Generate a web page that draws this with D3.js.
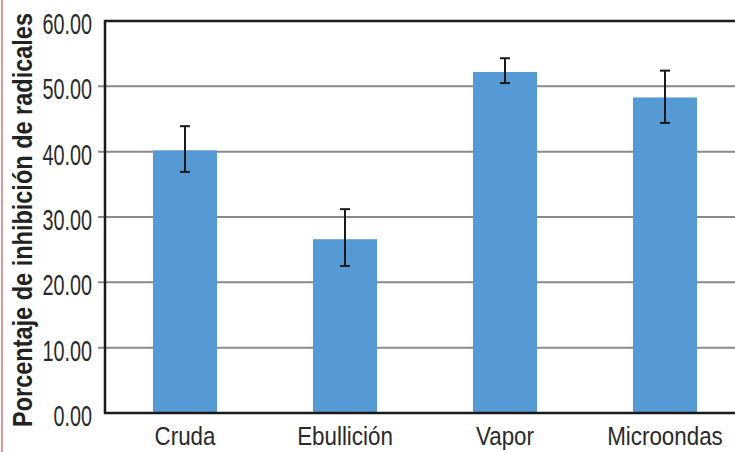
<!DOCTYPE html>
<html><head><meta charset="utf-8">
<script src="https://cdn.jsdelivr.net/npm/d3@7"></script>
<style>html,body{margin:0;padding:0;background:#fff;overflow:hidden}</style>
</head><body>
<svg id="chart" width="735" height="452"></svg>
<script>
const categories = ["Cruda", "Ebullición", "Vapor", "Microondas"];
const values = [40.2, 26.6, 52.2, 48.3];
const errHigh = [43.9, 31.2, 54.3, 52.4];
const errLow = [36.9, 22.5, 50.5, 44.4];
const yTicks = [0, 10, 20, 30, 40, 50, 60];
const yTitle = "Porcentaje de inhibición de radicales";

const svg = d3.select("#chart");
const W = 735, H = 452;
const m = {left: 105, top: 21, bottom: 413};
const font = "'Liberation Sans', Arial, sans-serif";

function condense(sel, s) {
  sel.each(function () {
    const L = this.getComputedTextLength();
    d3.select(this).attr("textLength", L * s).attr("lengthAdjust", "spacingAndGlyphs");
  });
}

svg.append("rect").attr("x", 0).attr("y", 0).attr("width", W).attr("height", H).attr("fill", "#fff");
svg.append("rect").attr("x", 1).attr("y", 0).attr("width", 2).attr("height", H).attr("fill", "#d99a9a");

const x = d3.scaleBand().domain(categories).range([m.left, m.left + 640]).paddingInner(0.6).paddingOuter(0.3);
const y = d3.scaleLinear().domain([0, 60]).range([m.bottom, m.top]);

// gridlines (with outside tick stubs)
svg.append("g").selectAll("line").data(yTicks.filter(t => t > 0 && t < 60)).join("line")
  .attr("x1", m.left - 7).attr("x2", W).attr("y1", d => y(d)).attr("y2", d => y(d))
  .attr("stroke", "#8a8a8a").attr("stroke-width", 2);

// bars
svg.append("g").selectAll("rect").data(categories).join("rect")
  .attr("x", d => x(d)).attr("width", x.bandwidth())
  .attr("y", (d, i) => y(values[i])).attr("height", (d, i) => y(0) - y(values[i]))
  .attr("fill", "#5599d5");

// error bars
const eb = svg.append("g").attr("stroke", "#1a1a1a").attr("stroke-width", 2);
categories.forEach((c, i) => {
  const cx = x(c) + x.bandwidth() / 2;
  eb.append("line").attr("x1", cx).attr("x2", cx).attr("y1", y(errHigh[i])).attr("y2", y(errLow[i]));
  eb.append("line").attr("x1", cx - 5).attr("x2", cx + 5).attr("y1", y(errHigh[i])).attr("y2", y(errHigh[i]));
  eb.append("line").attr("x1", cx - 5).attr("x2", cx + 5).attr("y1", y(errLow[i])).attr("y2", y(errLow[i]));
});

// frame
svg.append("path")
  .attr("d", `M${W},${m.top}H${m.left}V${m.bottom}H${W}`)
  .attr("fill", "none").attr("stroke", "#1a1a1a").attr("stroke-width", 2.5);

// y axis labels
const yAxis = d3.axisLeft(y).tickValues(yTicks).tickFormat(d3.format(".2f")).tickSize(0).tickPadding(13);
const gy = svg.append("g").attr("transform", `translate(${m.left},0)`).call(yAxis);
gy.select(".domain").remove();
gy.selectAll("text").attr("font-family", font).attr("font-size", 30).attr("fill", "#2a2a2a")
  .attr("dy", "0.42em").call(condense, 0.66);

// x axis labels
const xAxis = d3.axisBottom(x).tickSize(0).tickPadding(14);
const gx = svg.append("g").attr("transform", `translate(0,${m.bottom})`).call(xAxis);
gx.select(".domain").remove();
gx.selectAll("text").attr("font-family", font).attr("font-size", 26).attr("fill", "#2a2a2a")
  .call(condense, 0.86);

// y title
svg.append("text").attr("transform", `translate(32,${(13 + 427) / 2}) rotate(-90)`)
  .attr("text-anchor", "middle").attr("font-family", font).attr("font-weight", "bold")
  .attr("font-size", 27).attr("fill", "#222").text(yTitle)
  .attr("textLength", 414).attr("lengthAdjust", "spacingAndGlyphs");
</script>
</body></html>
